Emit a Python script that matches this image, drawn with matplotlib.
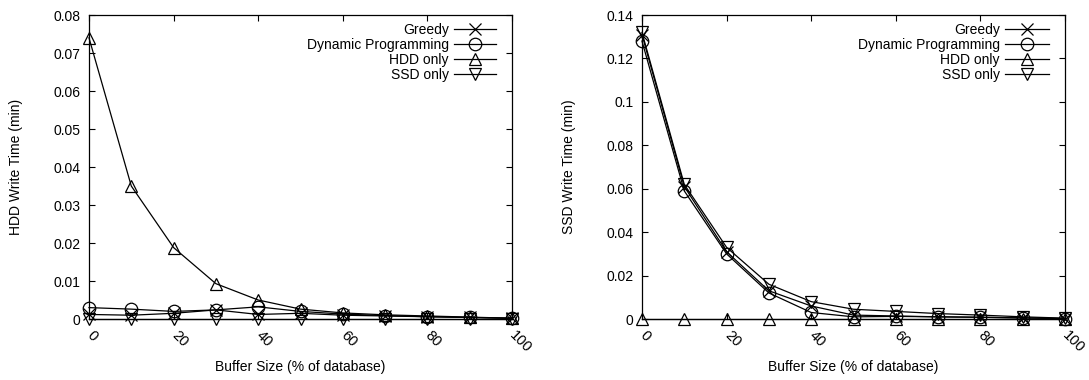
import matplotlib
matplotlib.use("Agg")
import matplotlib.pyplot as plt
from matplotlib.ticker import FuncFormatter

plt.rcParams['font.family'] = ['Liberation Sans', 'DejaVu Sans']
plt.rcParams['font.size'] = 10

buffer_pct = [0, 10, 20, 30, 40, 50, 60, 70, 80, 90, 100]
series_names = ["Greedy", "Dynamic Programming", "HDD only", "SSD only"]
markers = ['x', 'o', '^', 'v']

hdd_greedy = [0.0012, 0.0010, 0.0015, 0.0024, 0.0012, 0.0015, 0.0010, 0.0008, 0.0006, 0.0004, 0.0002]
hdd_dp = [0.0030, 0.0026, 0.0020, 0.0024, 0.0032, 0.0020, 0.0013, 0.0009, 0.0006, 0.0004, 0.0002]
hdd_hddonly = [0.0740, 0.0350, 0.0188, 0.0093, 0.0050, 0.0026, 0.0016, 0.0011, 0.0008, 0.0005, 0.0002]
hdd_ssdonly = [0, 0, 0, 0, 0, 0, 0, 0, 0, 0, 0]

ssd_greedy = [0.131, 0.061, 0.031, 0.013, 0.006, 0.0018, 0.0014, 0.0010, 0.0008, 0.0005, 0.0002]
ssd_dp = [0.128, 0.059, 0.030, 0.012, 0.003, 0.0010, 0.0012, 0.0010, 0.0008, 0.0005, 0.0002]
ssd_hddonly = [0, 0, 0, 0, 0, 0, 0, 0, 0, 0, 0]
ssd_ssdonly = [0.132, 0.062, 0.033, 0.016, 0.008, 0.0045, 0.0035, 0.0025, 0.0018, 0.0010, 0.0004]

x_ticks = [0, 20, 40, 60, 80, 100]
left_yticks = [0, 0.01, 0.02, 0.03, 0.04, 0.05, 0.06, 0.07, 0.08]
right_yticks = [0, 0.02, 0.04, 0.06, 0.08, 0.1, 0.12, 0.14]

fig = plt.figure(figsize=(10.89, 3.8), dpi=100)
ax1 = fig.add_axes([0.0817, 0.1605, 0.3885, 0.8])
ax2 = fig.add_axes([0.5895, 0.1605, 0.3885, 0.8])

def setup(ax, series, yticks, ylabel, hlen):
    for name, m, vals in zip(series_names, markers, series):
        ax.plot(buffer_pct, vals, color='black', lw=0.9, marker=m, ms=9,
                mfc='none', mec='black', mew=0.9, label=name, clip_on=False)
    ax.set_xlim(0, 100)
    ax.set_ylim(yticks[0], yticks[-1])
    ax.set_xticks(x_ticks)
    ax.set_yticks(yticks)
    ax.yaxis.set_major_formatter(FuncFormatter(lambda v, p: '%g' % round(v, 4)))
    ax.tick_params(direction='in', top=True, right=True, length=4, width=0.8, labelsize=10)
    ax.tick_params(axis='x', pad=10, labelsize=10.5)
    ax.tick_params(axis='y', pad=6)
    for lab in ax.get_xticklabels():
        lab.set_rotation(-45)
        lab.set_ha('left')
        lab.set_va('center')
        lab.set_rotation_mode('anchor')
    ax.set_xlabel("Buffer Size (% of database)", fontsize=10)
    ax.set_ylabel(ylabel, fontsize=10)
    ax.xaxis.set_label_coords(0.5, -0.135)
    ax.yaxis.set_label_coords(-0.155, 0.5)
    for s in ax.spines.values():
        s.set_linewidth(0.9)
    leg = ax.legend(loc='upper right', frameon=False, markerfirst=False,
                    bbox_to_anchor=(1 - 16 / 423, 1 - 8 / 304),
                    handlelength=hlen, handletextpad=0.4, labelspacing=0.06,
                    borderaxespad=0, borderpad=0, fontsize=10)
    return leg

setup(ax1, [hdd_greedy, hdd_dp, hdd_hddonly, hdd_ssdonly], left_yticks, "HDD Write Time (min)", 3.0)
setup(ax2, [ssd_greedy, ssd_dp, ssd_hddonly, ssd_ssdonly], right_yticks, "SSD Write Time (min)", 3.15)

fig.savefig("out.png", dpi=100)
